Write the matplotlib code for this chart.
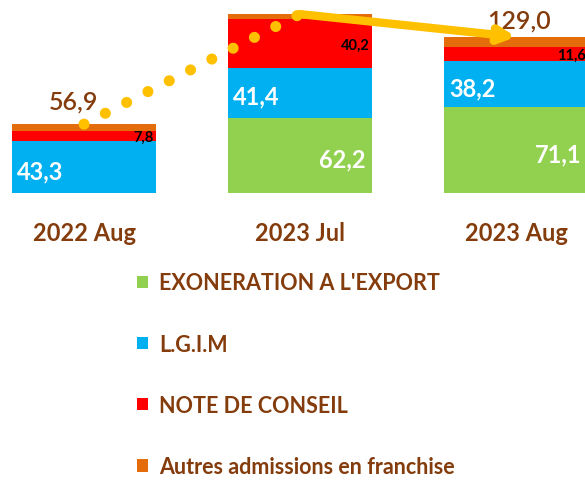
import matplotlib.pyplot as plt
import numpy as np

# data
categories = ['2022 Aug', '2023 Jul', '2023 Aug']
series_names = ["EXONERATION A L'EXPORT", 'L.G.I.M', 'NOTE DE CONSEIL',
                'Autres admissions en franchise']
exoneration = [0.0, 62.2, 71.1]
lgim = [43.3, 41.4, 38.2]
note_conseil = [7.8, 40.2, 11.6]
autres = [5.8, 4.0, 8.1]
total_labels = ['56,9', None, '129,0']

colors = ['#92D050', '#00B0F0', '#FF0000', '#E46C0A']
brown = '#843C0C'
gold = '#FFC000'

plt.rcParams['font.family'] = ['Lato', 'DejaVu Sans']

fig = plt.figure(figsize=(5.85, 4.81), dpi=100)
ax = fig.add_axes([0, 1 - 194 / 481, 1, 194 / 481])

x = np.arange(len(categories))
w = 0.667
series = [exoneration, lgim, note_conseil, autres]
bottom = np.zeros(len(categories))
bars = []
for vals, col, name in zip(series, colors, series_names):
    b = ax.bar(x, vals, w, bottom=bottom, color=col, label=name, zorder=2)
    bars.append(b)
    bottom += np.array(vals)
totals = bottom

def fmt(v):
    return f'{v:.1f}'.replace('.', ',')

# value labels inside segments
for i in range(len(x)):
    left = x[i] - w / 2
    right = x[i] + w / 2
    if exoneration[i] > 0:
        ax.text(right - 0.03, exoneration[i] / 2 - 3, fmt(exoneration[i]),
                ha='right', va='center', color='white', fontsize=17, fontweight='bold', zorder=3)
    ax.text(left + 0.025, exoneration[i] + lgim[i] / 2 - 3, fmt(lgim[i]),
            ha='left', va='center', color='white', fontsize=17, fontweight='bold', zorder=3)
    yb = exoneration[i] + lgim[i]
    ax.text(right - 0.01, yb + note_conseil[i] / 2 - 1, fmt(note_conseil[i]),
            ha='right', va='center', color='black', fontsize=10.5, fontweight='bold', zorder=3)
    if total_labels[i]:
        dy = 19 if i == 0 else 14
        ax.text(x[i] - 0.05 if i == 0 else x[i] + 0.015, totals[i] + dy, total_labels[i],
                ha='center', va='center', color=brown, fontsize=18, fontweight='semibold', zorder=3)

# trend: dotted line then arrow
ax.plot(x[:2], totals[:2], color=gold, lw=8, linestyle=(0, (0.001, 2.15)),
        dash_capstyle='round', zorder=4)
ax.annotate('', xy=(x[2], totals[2]), xytext=(x[1], totals[1]),
            arrowprops=dict(arrowstyle='-|>,head_length=0.9,head_width=0.45', color=gold,
                            lw=6, shrinkA=0, shrinkB=0), zorder=4)

ax.set_xlim(-0.389, 2.319)
ax.set_ylim(0, 160.3)
ax.set_xticks(x)
ax.set_xticklabels(categories, color=brown, fontsize=17, fontweight='bold')
ax.tick_params(axis='x', length=0, pad=20)
ax.set_yticks([])
for s in ax.spines.values():
    s.set_visible(False)

fig.legend(handles=bars, labels=series_names, loc='upper left',
           bbox_to_anchor=(118 / 585, 1 - 254 / 481), frameon=False,
           prop={'weight': 'bold', 'size': 15.5},
           handlelength=0.5, handleheight=0.5, handletextpad=0.5, labelspacing=1.87)
for t in fig.legends[0].get_texts():
    t.set_color(brown)

fig.savefig('out.png', dpi=100)
